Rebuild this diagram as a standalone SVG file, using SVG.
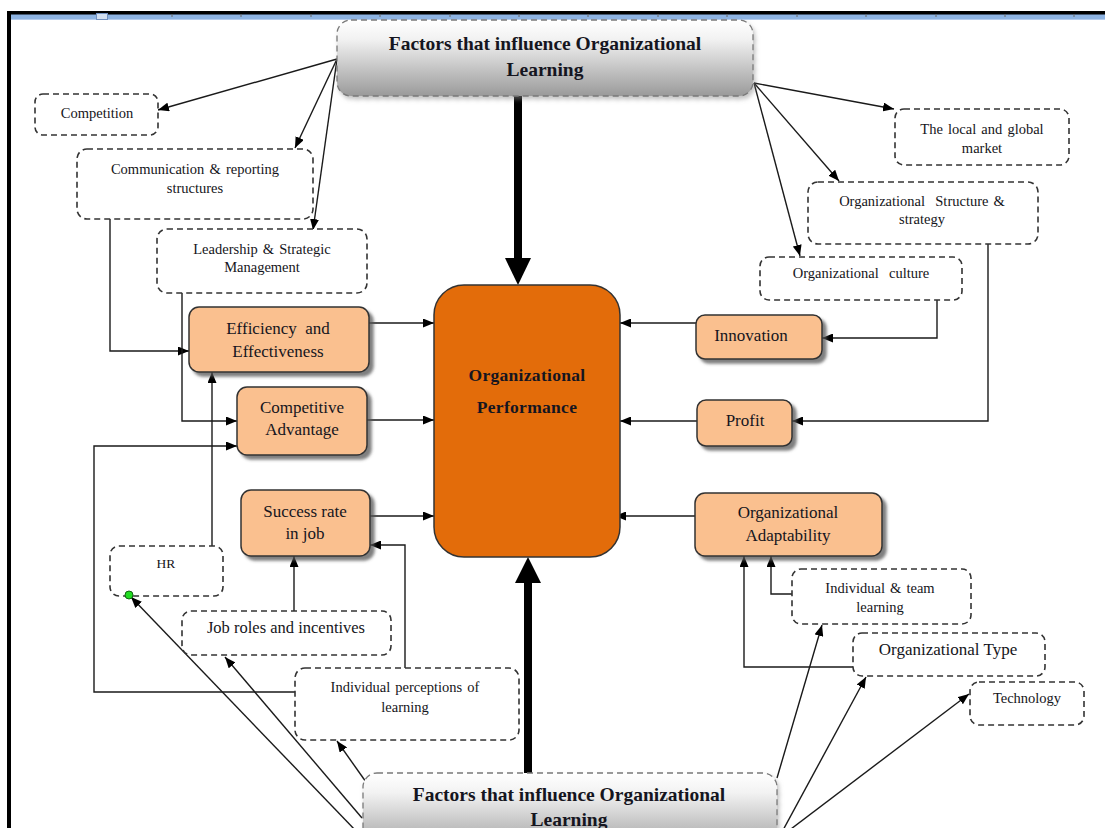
<svg xmlns="http://www.w3.org/2000/svg" width="1105" height="828" viewBox="0 0 1105 828">
<defs>
<style>
.t{font-family:"Liberation Serif","Times New Roman",serif;fill:#151520;text-anchor:middle;white-space:pre}
.s{font-size:14.5px;word-spacing:1.5px}
.m{font-size:17px}
.b{font-size:19.5px;font-weight:bold}
.c{font-size:17.5px;font-weight:bold;letter-spacing:0.3px}
.dash{fill:#fff;stroke:#333;stroke-width:1.6;stroke-dasharray:6 4}
.org{fill:#fac08f;stroke:#333;stroke-width:1.5;filter:url(#sh)}
.fac{fill:url(#fg);stroke:#7a7a7a;stroke-width:1.3;stroke-dasharray:6 4;filter:url(#sh2)}
.ln{fill:none;stroke:#1a1a1a;stroke-width:1.4}
.ar{marker-end:url(#ah)}
</style>
<marker id="ah" markerUnits="userSpaceOnUse" markerWidth="11" markerHeight="9" refX="11" refY="4.5" orient="auto">
<path d="M0,0 L11,4.5 L0,9 z" fill="#000"/>
</marker>
<linearGradient id="fg" x1="0" y1="0" x2="0" y2="1">
<stop offset="0" stop-color="#ffffff"/>
<stop offset="0.25" stop-color="#f2f2f2"/>
<stop offset="1" stop-color="#9a9a9a"/>
</linearGradient>
<filter id="sh" x="-10%" y="-10%" width="125%" height="135%">
<feDropShadow dx="4" dy="4" stdDeviation="1.5" flood-color="#555" flood-opacity="0.75"/>
</filter>
<filter id="sh2" x="-5%" y="-10%" width="112%" height="130%">
<feDropShadow dx="2" dy="3" stdDeviation="2" flood-color="#888" flood-opacity="0.5"/>
</filter>
</defs>

<g id="frame">
<rect x="11" y="14" width="1094" height="6" fill="#8db3e2"/>
<rect x="11" y="19" width="1094" height="1" fill="#b5cdee"/>
<rect x="7" y="11" width="1098" height="3.5" fill="#000"/>
<rect x="7" y="11" width="4" height="817" fill="#000"/>
<rect x="96.5" y="13.5" width="11" height="6" fill="#d3e0f2" stroke="#6f8fc0" stroke-width="1"/>
<g stroke="#666" stroke-width="1">
<line x1="172" y1="14" x2="172" y2="17"/><line x1="241" y1="14" x2="241" y2="17"/><line x1="311" y1="14" x2="311" y2="17"/><line x1="380" y1="14" x2="380" y2="17"/><line x1="450" y1="14" x2="450" y2="17"/><line x1="519" y1="14" x2="519" y2="17"/><line x1="588" y1="14" x2="588" y2="17"/><line x1="658" y1="14" x2="658" y2="17"/><line x1="727" y1="14" x2="727" y2="17"/><line x1="797" y1="14" x2="797" y2="17"/><line x1="866" y1="14" x2="866" y2="17"/><line x1="936" y1="14" x2="936" y2="17"/><line x1="1005" y1="14" x2="1005" y2="17"/><line x1="1074" y1="14" x2="1074" y2="17"/>
</g>
</g>

<g id="connectors">
<line x1="518" y1="96" x2="518" y2="262" stroke="#000" stroke-width="8"/>
<polygon points="505,258 531,258 518,285" fill="#000"/>
<line x1="528" y1="785" x2="528" y2="580" stroke="#000" stroke-width="8"/>
<polygon points="515,583 541,583 528,557" fill="#000"/>
<line class="ln ar" x1="369" y1="323" x2="434" y2="323"/>
<line class="ln ar" x1="367" y1="420" x2="434" y2="420"/>
<line class="ln ar" x1="370" y1="516" x2="434" y2="516"/>
<line class="ln ar" x1="696" y1="323" x2="620" y2="323"/>
<line class="ln ar" x1="697" y1="421" x2="620" y2="421"/>
<line class="ln ar" x1="695" y1="516" x2="615" y2="516"/>
<line class="ln ar" x1="337" y1="59" x2="158" y2="110"/>
<line class="ln ar" x1="337" y1="59" x2="295" y2="148"/>
<line class="ln ar" x1="337" y1="59" x2="313" y2="230"/>
<line class="ln ar" x1="754" y1="83" x2="894" y2="109"/>
<line class="ln ar" x1="754" y1="83" x2="839" y2="181"/>
<line class="ln ar" x1="754" y1="83" x2="800" y2="256"/>
<path class="ln ar" d="M110,219 V351 H189"/>
<path class="ln ar" d="M182,293 V421 H237"/>
<path class="ln ar" d="M212,546 V372"/>
<path class="ln ar" d="M295,692 H94 V446 H237"/>
<path class="ln ar" d="M405,668 V545 H370"/>
<path class="ln ar" d="M294,611 V556"/>
<path class="ln ar" d="M937,300 V338 H822"/>
<path class="ln ar" d="M988,244 V421 H792"/>
<path class="ln ar" d="M792,594 H771 V556"/>
<path class="ln ar" d="M853,667 H744 V556"/>
<line class="ln ar" x1="357" y1="832" x2="131" y2="597"/>
<line class="ln ar" x1="362" y1="818" x2="225" y2="657"/>
<line class="ln ar" x1="366" y1="782" x2="337" y2="741"/>
<line class="ln ar" x1="777" y1="778" x2="822" y2="625"/>
<line class="ln ar" x1="782" y1="832" x2="866" y2="677"/>
<line class="ln ar" x1="787" y1="832" x2="969" y2="694"/>
</g>

<g id="node-factors-top">
<rect class="fac" x="337" y="20" width="416" height="76" rx="14"/>
<text class="t b" x="545" y="50">Factors that influence Organizational</text>
<text class="t b" x="545" y="76">Learning</text>
</g>
<g id="node-factors-bottom">
<rect class="fac" x="363" y="773" width="414" height="80" rx="14"/>
<text class="t b" x="569" y="801">Factors that influence Organizational</text>
<text class="t b" x="569" y="826">Learning</text>
</g>
<g id="node-performance">
<rect x="434" y="285" width="186" height="272" rx="30" fill="#e36c0a" stroke="#333" stroke-width="1.5"/>
<text class="t c" x="527" y="381">Organizational</text>
<text class="t c" x="527" y="413">Performance</text>
</g>

<g id="node-competition">
<rect class="dash" x="35" y="94" width="123" height="41" rx="8"/>
<text class="t s" x="97" y="118">Competition</text>
</g>
<g id="node-communication">
<rect class="dash" x="77" y="149" width="236" height="70" rx="10"/>
<text class="t s" x="195" y="174">Communication &amp; reporting</text>
<text class="t s" x="195" y="193">structures</text>
</g>
<g id="node-leadership">
<rect class="dash" x="157" y="229" width="210" height="64" rx="10"/>
<text class="t s" x="262" y="254">Leadership &amp; Strategic</text>
<text class="t s" x="262" y="272">Management</text>
</g>
<g id="node-efficiency">
<rect class="org" x="189" y="307" width="180" height="65" rx="10"/>
<text class="t m" x="278" y="334">Efficiency  and</text>
<text class="t m" x="278" y="357">Effectiveness</text>
</g>
<g id="node-competitive">
<rect class="org" x="237" y="387" width="130" height="68" rx="10"/>
<text class="t m" x="302" y="413">Competitive</text>
<text class="t m" x="302" y="435">Advantage</text>
</g>
<g id="node-success">
<rect class="org" x="241" y="490" width="129" height="66" rx="10"/>
<text class="t m" x="305" y="517">Success rate</text>
<text class="t m" x="305" y="539">in job</text>
</g>
<g id="node-hr">
<rect class="dash" x="110" y="546" width="113" height="50" rx="9"/>
<text class="t s" x="166" y="568" style="font-size:13.5px">HR</text>
<circle cx="129" cy="595" r="4" fill="#22dd22" stroke="#116611" stroke-width="1"/>
</g>
<g id="node-jobroles">
<rect class="dash" x="182" y="611" width="209" height="44" rx="9"/>
<text class="t" x="286" y="633" style="font-size:16.5px">Job roles and incentives</text>
</g>
<g id="node-perceptions">
<rect class="dash" x="295" y="668" width="224" height="72" rx="10"/>
<text class="t s" x="405" y="692">Individual perceptions of</text>
<text class="t s" x="405" y="712">learning</text>
</g>
<g id="node-market">
<rect class="dash" x="895" y="109" width="174" height="56" rx="9"/>
<text class="t s" x="982" y="134">The local and global</text>
<text class="t s" x="982" y="153">market</text>
</g>
<g id="node-structure">
<rect class="dash" x="808" y="182" width="230" height="62" rx="10"/>
<text class="t s" x="922" y="206">Organizational  Structure &amp;</text>
<text class="t s" x="922" y="224">strategy</text>
</g>
<g id="node-culture">
<rect class="dash" x="760" y="257" width="202" height="43" rx="9"/>
<text class="t s" x="861" y="278">Organizational  culture</text>
</g>
<g id="node-innovation">
<rect class="org" x="696" y="315" width="126" height="44" rx="9"/>
<text class="t m" x="751" y="341">Innovation</text>
</g>
<g id="node-profit">
<rect class="org" x="697" y="400" width="95" height="46" rx="9"/>
<text class="t m" x="745" y="426">Profit</text>
</g>
<g id="node-adaptability">
<rect class="org" x="695" y="493" width="187" height="63" rx="10"/>
<text class="t m" x="788" y="518">Organizational</text>
<text class="t m" x="788" y="541">Adaptability</text>
</g>
<g id="node-teamlearning">
<rect class="dash" x="792" y="569" width="179" height="55" rx="9"/>
<text class="t s" x="880" y="593">Individual &amp; team</text>
<text class="t s" x="880" y="612">learning</text>
</g>
<g id="node-orgtype">
<rect class="dash" x="853" y="633" width="192" height="43" rx="9"/>
<text class="t m" x="948" y="655">Organizational Type</text>
</g>
<g id="node-technology">
<rect class="dash" x="970" y="682" width="114" height="43" rx="9"/>
<text class="t s" x="1027" y="703">Technology</text>
</g>
</svg>
